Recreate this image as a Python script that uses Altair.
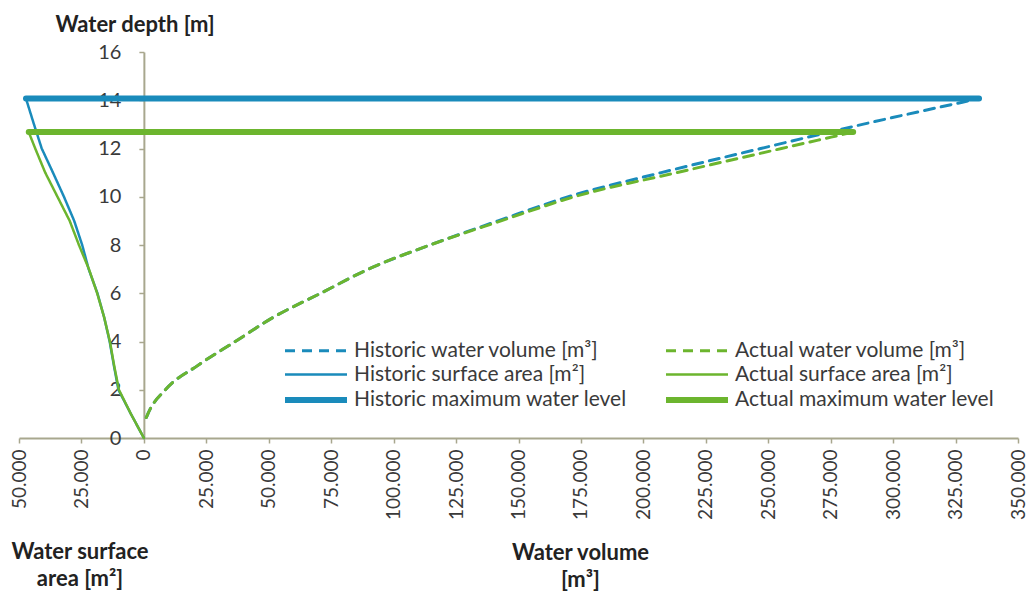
import altair as alt
import pandas as pd

# ---- data -----------------------------------------------------------------
# legend order (fills column by column: historic left, actual right)
SERIES = [
    "Historic water volume [m³]",
    "Historic surface area [m²]",
    "Historic maximum water level",
    "Actual water volume [m³]",
    "Actual surface area [m²]",
    "Actual maximum water level",
]

# historic bathymetry (blue)
HIST_VOL_DEPTH = [0.85, 1, 2, 3, 4, 5, 6, 7, 8, 9, 10, 11, 12, 13, 14, 14.07]
HIST_VOLUME = [1000, 1600, 8600, 21500, 36600, 51800, 70800, 89900, 114600,
               141800, 170000, 207200, 247000, 287700, 331300, 334400]
HIST_AREA_DEPTH = [0, 1, 2, 3, 4, 5, 6, 7, 8, 9, 10, 11, 12, 13, 14, 14.07]
HIST_AREA = [0, 5200, 10200, 12000, 13700, 15900, 18600, 22100, 24700,
             27900, 32000, 36400, 40900, 44000, 47000, 47200]
HIST_MAX_LEVEL = 14.07

# actual bathymetry (green)
ACT_VOL_DEPTH = [0.85, 1, 2, 3, 4, 5, 6, 7, 8, 9, 10, 11, 12, 12.68]
ACT_VOLUME = [1000, 1600, 8600, 21500, 36600, 51800, 70800, 89900, 114600,
              143000, 172300, 213400, 255300, 284000]
ACT_AREA_DEPTH = [0, 1, 2, 3, 4, 5, 6, 7, 8, 9, 10, 11, 12, 12.68]
ACT_AREA = [0, 5200, 10000, 11900, 13600, 15900, 18700, 22000, 26000,
            29700, 34600, 39500, 43500, 46100]
ACT_MAX_LEVEL = 12.68

X_TICKS = list(range(-50000, 350001, 25000))
Y_TICKS = [0, 2, 4, 6, 8, 10, 12, 14, 16]

BLUE = "#1a8bbb"
GREEN = "#6cb52e"
COLORS = [BLUE, BLUE, BLUE, GREEN, GREEN, GREEN]
DASHES = [[10, 7], [1, 0], [1, 0], [10, 7], [1, 0], [1, 0]]
WIDTHS = [3, 2.5, 6, 3, 2.5, 6]

# ---- long table: surface area is drawn to the left of zero ---------------
rows = []
def add(series, kind, xs, ys):
    for i, (x, y) in enumerate(zip(xs, ys)):
        rows.append({"series": series, "kind": kind, "x": x, "depth": y, "order": i})

add(SERIES[0], "volume", HIST_VOLUME, HIST_VOL_DEPTH)
add(SERIES[3], "volume", ACT_VOLUME, ACT_VOL_DEPTH)
add(SERIES[1], "area", [-a for a in HIST_AREA], HIST_AREA_DEPTH)
add(SERIES[4], "area", [-a for a in ACT_AREA], ACT_AREA_DEPTH)
add(SERIES[2], "level", [-HIST_AREA[-1], HIST_VOLUME[-1]], [HIST_MAX_LEVEL, HIST_MAX_LEVEL])
add(SERIES[5], "level", [-ACT_AREA[-1], ACT_VOLUME[-1]], [ACT_MAX_LEVEL, ACT_MAX_LEVEL])
df = pd.DataFrame(rows)

W, H = 999, 386
X_MIN, X_MAX = -50000, 350000
zero_px = W * (0 - X_MIN) / (X_MAX - X_MIN)

FONT = "Lato"
AXIS_COLOR = "#a8a78e"
TEXT_COLOR = "#3a3a3a"
TITLE_COLOR = "#222222"

encoding = dict(
    x=alt.X(
        "x:Q",
        scale=alt.Scale(domain=[X_MIN, X_MAX], nice=False, zero=False),
        axis=alt.Axis(
            values=X_TICKS,
            labelExpr="replace(format(abs(datum.value), ','), ',', '.')",
            labelAngle=-90,
            labelPadding=6,
            title=["Water volume", "[m³]"],
            titleX=561,
            titleY=104,
            titleAlign="center",
            titleBaseline="top",
            titleLineHeight=27,
        ),
    ),
    y=alt.Y(
        "depth:Q",
        scale=alt.Scale(domain=[0, 16], nice=False),
        axis=alt.Axis(
            values=Y_TICKS,
            offset=-zero_px,
            labelPadding=18,
            labelFontSize=20,
            title="Water depth [m]",
            titleAngle=0,
            titleAlign="left",
            titleBaseline="alphabetic",
            titleX=36 - zero_px,
            titleY=-21,
        ),
    ),
    color=alt.Color(
        "series:N",
        scale=alt.Scale(domain=SERIES, range=COLORS),
        legend=alt.Legend(
            orient="none",
            legendX=284,
            legendY=287,
            columns=2,
            title=None,
            symbolType="M-3.1,0H3.1",
            symbolSize=400,
            labelOffset=25,
            labelLimit=0,
            columnPadding=27,
            rowPadding=2,
            padding=0,
            labelFontSize=21,
            labelFont=FONT,
            labelColor=TEXT_COLOR,
        ),
    ),
    strokeDash=alt.StrokeDash("series:N", scale=alt.Scale(domain=SERIES, range=DASHES)),
    strokeWidth=alt.StrokeWidth(
        "series:N", scale=alt.Scale(type="ordinal", domain=SERIES, range=WIDTHS)
    ),
    order="order:Q",
    detail="series:N",
)

base = alt.Chart(df)

# smoothed storage curves, straight area profiles and level lines
volume_lines = base.transform_filter(alt.datum.kind == "volume").mark_line(
    strokeCap="round", strokeJoin="round", interpolate="monotone"
).encode(**encoding)

other_lines = base.transform_filter(alt.datum.kind != "volume").mark_line(
    strokeCap="round", strokeJoin="round"
).encode(**encoding)

AREA_TITLE = ["Water surface", "area [m²]"]
area_title = alt.Chart(pd.DataFrame({"t": [0]})).mark_text(
    text=AREA_TITLE,
    font=FONT,
    fontSize=22,
    fontWeight="bold",
    color=TITLE_COLOR,
    align="center",
    baseline="top",
    lineHeight=27,
).encode(x=alt.value(61), y=alt.value(H + 104))

chart = (
    alt.layer(volume_lines, other_lines, area_title)
    .properties(
        width=W,
        height=H,
        autosize=alt.AutoSizeParams(type="none"),
        padding={"left": 19, "top": 52, "right": 14, "bottom": 154},
    )
    .configure_view(stroke=None)
    .configure_axis(
        grid=False,
        domainColor=AXIS_COLOR,
        domainWidth=2,
        tickColor=AXIS_COLOR,
        tickWidth=1.5,
        tickSize=5,
        labelFont=FONT,
        labelFontSize=19,
        labelColor=TEXT_COLOR,
        titleFont=FONT,
        titleFontSize=22,
        titleFontWeight="bold",
        titleColor=TITLE_COLOR,
    )
)

chart.save("out.html", embed_options={"renderer": "svg", "actions": False})
